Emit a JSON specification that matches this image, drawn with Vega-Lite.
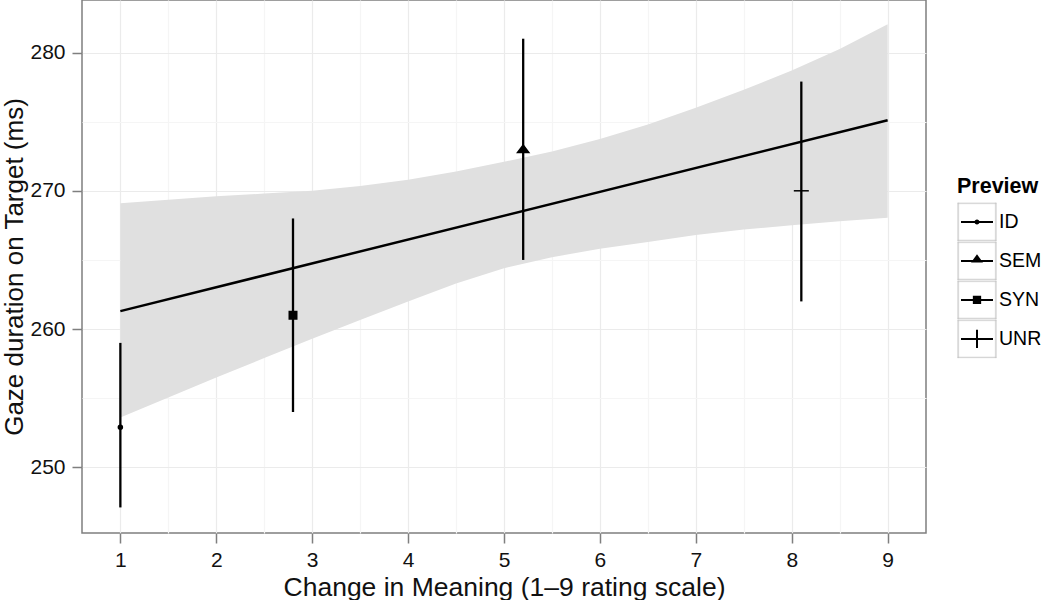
{
  "$schema": "https://vega.github.io/schema/vega-lite/v6.json",
  "width": 844,
  "height": 533,
  "autosize": {"type": "none"},
  "padding": {"left": 82, "top": 0, "right": 124, "bottom": 67},
  "background": "white",
  "config": {
    "font": "Liberation Sans",
    "view": {"stroke": "#7f7f7f", "strokeWidth": 1.5},
    "axis": {
      "domain": false,
      "tickColor": "#7f7f7f",
      "tickWidth": 1.5,
      "tickSize": 10,
      "labelColor": "#111111",
      "labelFontSize": 21,
      "titleFontWeight": "normal",
      "titleColor": "#111111",
      "labelOverlap": false,
      "labelFlush": false
    }
  },
  "datasets": {
    "ribbon": [
      {"x": 1.0, "lo": 253.6, "hi": 269.1},
      {"x": 1.5, "lo": 255.05, "hi": 269.35},
      {"x": 2.0, "lo": 256.5, "hi": 269.6},
      {"x": 2.5, "lo": 257.9, "hi": 269.8},
      {"x": 3.0, "lo": 259.3, "hi": 270.0},
      {"x": 3.5, "lo": 260.65, "hi": 270.35},
      {"x": 4.0, "lo": 262.0, "hi": 270.8},
      {"x": 4.5, "lo": 263.3, "hi": 271.4},
      {"x": 5.0, "lo": 264.4, "hi": 272.1},
      {"x": 5.5, "lo": 265.2, "hi": 272.85},
      {"x": 6.0, "lo": 265.8, "hi": 273.75},
      {"x": 6.5, "lo": 266.3, "hi": 274.8},
      {"x": 7.0, "lo": 266.8, "hi": 276.0},
      {"x": 7.5, "lo": 267.2, "hi": 277.3},
      {"x": 8.0, "lo": 267.5, "hi": 278.7},
      {"x": 8.5, "lo": 267.8, "hi": 280.25},
      {"x": 9.0, "lo": 268.05, "hi": 282.05}
    ],
    "fit": [
      {"x": 1, "y": 261.3},
      {"x": 9, "y": 275.1}
    ],
    "points": [
      {"Preview": "ID", "x": 1.0, "y": 252.9, "lo": 247.1, "hi": 259.0},
      {"Preview": "SYN", "x": 2.8, "y": 261.0, "lo": 254.0, "hi": 268.0},
      {"Preview": "SEM", "x": 5.2, "y": 273.0, "lo": 265.0, "hi": 281.0},
      {"Preview": "UNR", "x": 8.1, "y": 270.0, "lo": 262.0, "hi": 277.9}
    ]
  },
  "layer": [
    {
      "data": {"name": "ribbon"},
      "mark": {"type": "area", "color": "#e0e0e0", "opacity": 1},
      "encoding": {
        "x": {
          "field": "x", "type": "quantitative",
          "scale": {"domain": [0.6, 9.4], "nice": false, "zero": false},
          "axis": {
            "title": "Change in Meaning (1–9 rating scale)",
            "titleFontSize": 26.5,
            "values": [1, 1.5, 2, 2.5, 3, 3.5, 4, 4.5, 5, 5.5, 6, 6.5, 7, 7.5, 8, 8.5, 9],
            "labelExpr": "datum.value % 1 === 0 ? format(datum.value, 'd') : ''",
            "tickOpacity": {"condition": {"test": "datum.value % 1 !== 0", "value": 0}, "value": 1},
            "gridColor": {"condition": {"test": "datum.value % 1 !== 0", "value": "#f5f5f5"}, "value": "#ebebeb"},
            "gridWidth": 1.2,
            "labelPadding": 6,
            "titlePadding": 4
          }
        },
        "y": {
          "field": "lo", "type": "quantitative",
          "scale": {"domain": [245.25, 283.8], "nice": false, "zero": false},
          "axis": {
            "title": "Gaze duration on Target (ms)",
            "titleFontSize": 26,
            "values": [250, 255, 260, 265, 270, 275, 280],
            "labelExpr": "datum.value % 10 === 0 ? format(datum.value, 'd') : ''",
            "tickOpacity": {"condition": {"test": "datum.value % 10 !== 0", "value": 0}, "value": 1},
            "gridColor": {"condition": {"test": "datum.value % 10 !== 0", "value": "#f5f5f5"}, "value": "#ebebeb"},
            "gridWidth": 1.2,
            "labelPadding": 7,
            "titlePadding": 2
          }
        },
        "y2": {"field": "hi"}
      }
    },
    {
      "data": {"name": "fit"},
      "mark": {"type": "line", "color": "black", "strokeWidth": 2.5},
      "encoding": {
        "x": {"field": "x", "type": "quantitative"},
        "y": {"field": "y", "type": "quantitative"}
      }
    },
    {
      "data": {"name": "points"},
      "mark": {"type": "rule", "color": "black", "strokeWidth": 2.3},
      "encoding": {
        "x": {"field": "x", "type": "quantitative"},
        "y": {"field": "lo", "type": "quantitative"},
        "y2": {"field": "hi"}
      }
    },
    {
      "data": {"name": "points"},
      "mark": {"type": "point", "filled": true, "color": "black", "stroke": "black", "strokeWidth": 1.5, "size": 225, "opacity": 1},
      "encoding": {
        "x": {"field": "x", "type": "quantitative"},
        "y": {"field": "y", "type": "quantitative"},
        "shape": {
          "field": "Preview", "type": "nominal",
          "scale": {
            "domain": ["ID", "SEM", "SYN", "UNR"],
            "range": [
              "M-0.27,0A0.27,0.27 0 1,0 0.27,0A0.27,0.27 0 1,0 -0.27,0Z",
              "M-0.75,0.43L0,-0.57L0.75,0.43Z",
              "M-0.5,-0.5H0.5V0.5H-0.5Z",
              "M-1,0H1"
            ]
          },
          "legend": null
        }
      }
    },
    {
      "data": {"name": "points"},
      "mark": {"type": "point", "filled": true, "color": "black", "opacity": 0},
      "encoding": {
        "x": {"field": "x", "type": "quantitative"},
        "y": {"field": "y", "type": "quantitative"},
        "shape": {
          "field": "Preview", "type": "nominal",
          "scale": {
            "domain": ["ID", "SEM", "SYN", "UNR"],
            "range": [
              "M-1,-1M1,1M-0.83,-0.052H0.83V0.052H-0.83ZM-0.13,0A0.13,0.13 0 1,1 0.13,0A0.13,0.13 0 1,1 -0.13,0Z",
              "M-1,-1M1,1M-0.83,-0.052H0.83V0.052H-0.83ZM-0.31,0.088L0,-0.35L0.31,0.088Z",
              "M-1,-1M1,1M-0.83,-0.052H0.83V0.052H-0.83ZM-0.215,-0.215H0.215V0.215H-0.215Z",
              "M-1,-1M1,1M-0.83,-0.052H0.83V0.052H-0.83ZM-0.052,-0.47H0.052V0.47H-0.052Z"
            ]
          },
          "legend": {
            "title": "Preview",
            "orient": "none",
            "legendX": 875,
            "legendY": 176,
            "padding": 0,
            "titleFontSize": 21.5,
            "titleFontWeight": "bold",
            "titleColor": "black",
            "titlePadding": 5,
            "labelFontSize": 19.5,
            "labelColor": "black",
            "labelOffset": 2,
            "symbolSize": 1490,
            "symbolStrokeWidth": 0.5,
            "symbolFillColor": "black",
            "symbolOpacity": 1,
            "clipHeight": 38.8,
            "rowPadding": 0
          }
        }
      }
    },
    {
      "data": {"name": "points"},
      "mark": {"type": "point", "filled": false, "opacity": 0},
      "encoding": {
        "x": {"field": "x", "type": "quantitative"},
        "y": {"field": "y", "type": "quantitative"},
        "color": {
          "field": "Preview", "type": "nominal",
          "scale": {"domain": ["ID", "SEM", "SYN", "UNR"], "range": ["#c4c4c4", "#c4c4c4", "#c4c4c4", "#c4c4c4"]},
          "legend": {
            "title": "Preview",
            "orient": "none",
            "legendX": 875,
            "legendY": 176,
            "padding": 0,
            "titleFontSize": 21.5,
            "titleFontWeight": "bold",
            "titleColor": "transparent",
            "titlePadding": 5,
            "labelFontSize": 19.5,
            "labelColor": "transparent",
            "labelOffset": 2,
            "symbolType": "M-1,-0.995H1M-1,-0.97H1M-1,-0.945H1M-1,0.995H1M-1,0.97H1M-1,0.945H1M-1,-1V1M-0.975,-1V1M-0.95,-1V1M1,-1V1M0.975,-1V1M0.95,-1V1",
            "symbolSize": 1490,
            "symbolStrokeWidth": 0.5,
            "symbolOpacity": 1,
            "clipHeight": 38.8,
            "rowPadding": 0
          }
        }
      }
    }
  ],
  "resolve": {"scale": {"shape": "independent"}, "legend": {"shape": "independent"}}
}
